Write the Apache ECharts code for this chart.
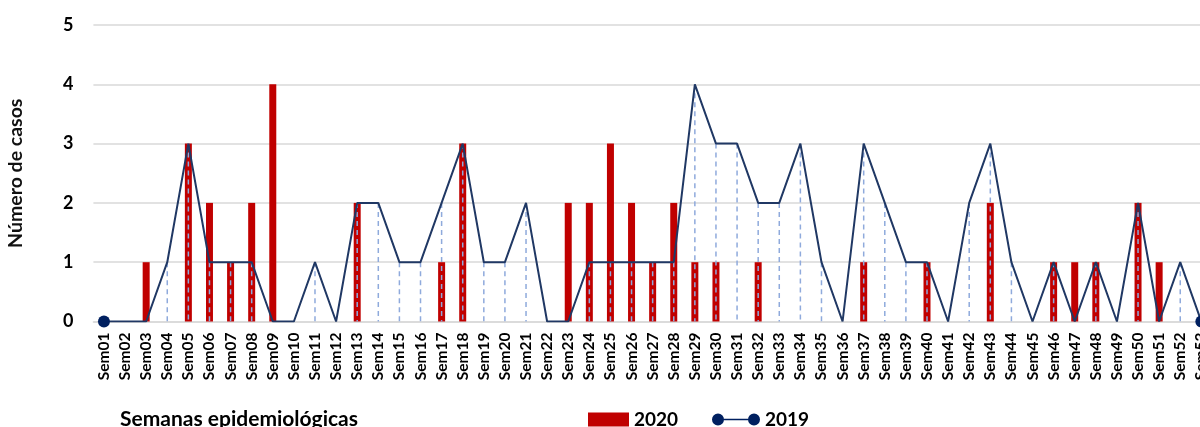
<!DOCTYPE html>
<html>
<head>
<meta charset="utf-8">
<script src="https://cdn.jsdelivr.net/npm/echarts@6/dist/echarts.min.js"></script>
<style>html,body{margin:0;padding:0;background:#fff;overflow:hidden}#c{width:1200px;height:427px}</style>
</head>
<body>
<div id="c"></div>
<script>
const weeks = ['Sem01','Sem02','Sem03','Sem04','Sem05','Sem06','Sem07','Sem08','Sem09','Sem10','Sem11','Sem12','Sem13','Sem14','Sem15','Sem16','Sem17','Sem18','Sem19','Sem20','Sem21','Sem22','Sem23','Sem24','Sem25','Sem26','Sem27','Sem28','Sem29','Sem30','Sem31','Sem32','Sem33','Sem34','Sem35','Sem36','Sem37','Sem38','Sem39','Sem40','Sem41','Sem42','Sem43','Sem44','Sem45','Sem46','Sem47','Sem48','Sem49','Sem50','Sem51','Sem52','Sem53'];
const cases2020 = [0,0,1,0,3,2,1,2,4,0,0,0,2,0,0,0,1,3,0,0,0,0,2,2,3,2,1,2,1,1,0,1,0,0,0,0,1,0,0,1,0,0,2,0,0,1,1,1,0,2,1,0,0];
const cases2019 = [0,0,0,1,3,1,1,1,0,0,1,0,2,2,1,1,2,3,1,1,2,0,0,1,1,1,1,1,4,3,3,2,2,3,1,0,3,2,1,1,0,2,3,1,0,1,0,1,0,2,0,1,0];
const yTicks = [0,1,2,3,4,5];

const FONT = 'Lato, "Open Sans", sans-serif';
const NAVY = '#203864';
const lastIdx = cases2019.length - 1;
const lineData = cases2019.map((v, i) => (i === 0 || i === lastIdx)
  ? {value: v, symbol: 'circle', symbolSize: 12}
  : {value: v});
const dropData = cases2019.map((v, i) => [i, v]);

const chart = echarts.init(document.getElementById('c'), null, {renderer: 'canvas'});
chart.setOption({
  animation: false,
  backgroundColor: '#fff',
  title: {
    text: 'Semanas epidemiológicas',
    left: 115, top: 404,
    textStyle: {fontFamily: FONT, fontWeight: 'bold', fontSize: 21, color: '#000'}
  },
  legend: [{
    data: ['2020'],
    left: 583, top: 405,
    itemWidth: 41, itemHeight: 14, itemGap: 0,
    icon: 'rect',
    textStyle: {fontFamily: FONT, fontWeight: 'bold', fontSize: 19, color: '#000'}
  }, {
    data: [{name: '2019', icon: 'path://M0,6 A6,6 0 1,1 12,6 A6,6 0 1,1 0,6 Z M11,5.2 L37,5.2 L37,6.8 L11,6.8 Z M36,6 A6,6 0 1,1 48,6 A6,6 0 1,1 36,6 Z'}],
    left: 707, top: 405,
    itemWidth: 48, itemHeight: 12, itemGap: 0,
    textStyle: {fontFamily: FONT, fontWeight: 'bold', fontSize: 19, color: '#000'}
  }],
  grid: {left: 93.4, width: 1118.5, top: 25, bottom: 105.5, containLabel: false, outerBoundsMode: 'none'},
  xAxis: {
    type: 'category',
    data: weeks,
    boundaryGap: true,
    axisLine: {show: true, lineStyle: {color: '#D9D9D9', width: 1.5}},
    axisTick: {show: false},
    axisLabel: {
      interval: 0, rotate: 90, margin: 11,
      fontFamily: FONT, fontWeight: 'bold', fontSize: 15.5, color: '#000'
    }
  },
  yAxis: {
    type: 'value',
    min: yTicks[0], max: yTicks[yTicks.length - 1], interval: 1,
    name: 'Número de casos',
    nameLocation: 'middle',
    nameGap: 68,
    nameTextStyle: {fontFamily: FONT, fontWeight: 'bold', fontSize: 19.5, color: '#111'},
    axisLine: {show: false},
    axisTick: {show: false},
    axisLabel: {margin: 20, fontFamily: FONT, fontWeight: 'bold', fontSize: 18, color: '#000'},
    splitLine: {show: true, lineStyle: {color: '#D9D9D9', width: 1.5}}
  },
  series: [{
    name: '2020',
    type: 'bar',
    data: cases2020,
    barWidth: 7,
    itemStyle: {color: '#C00000'},
    z: 2
  }, {
    name: 'drops',
    type: 'custom',
    data: dropData,
    z: 3,
    silent: true,
    renderItem: function (params, api) {
      const top = api.coord([api.value(0), api.value(1)]);
      const base = api.coord([api.value(0), 0]);
      return {
        type: 'line',
        shape: {x1: top[0], y1: top[1], x2: base[0], y2: base[1]},
        style: {stroke: '#8FAADC', lineWidth: 1.5, lineDash: [5, 4]}
      };
    }
  }, {
    name: '2019',
    type: 'line',
    data: lineData,
    symbol: 'none',
    itemStyle: {color: '#002060'},
    lineStyle: {color: NAVY, width: 2},
    z: 4
  }]
});
</script>
</body>
</html>
